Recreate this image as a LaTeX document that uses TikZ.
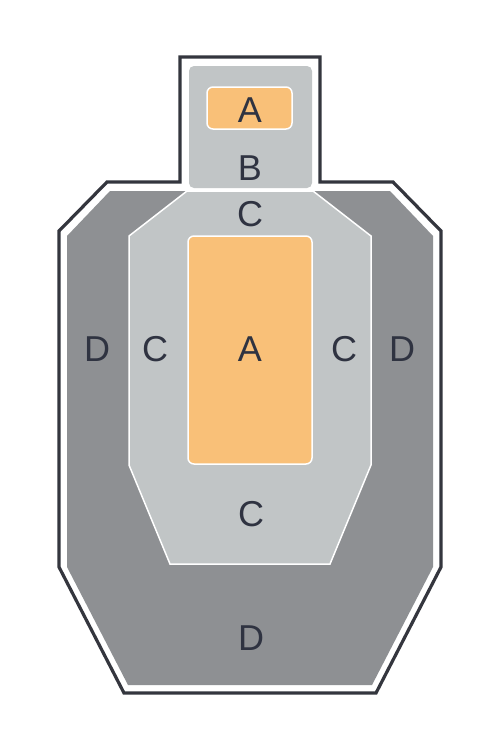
\documentclass[tikz,border=0pt]{standalone}
\usepackage{fontspec}
\setmainfont{Liberation Sans}
\definecolor{outl}{HTML}{34363E}
\definecolor{dgray}{HTML}{8E9093}
\definecolor{lgray}{HTML}{C1C5C6}
\definecolor{orng}{HTML}{F9C078}
\definecolor{txt}{HTML}{2F3341}
\tikzset{
  lbl/.style={text=txt, font=\fontsize{36}{36}\selectfont, inner sep=0pt, anchor=center},
  zoneD/.style={fill=dgray},
  zoneC/.style={fill=lgray, draw=white, line width=1.5pt, line join=miter},
  zoneA/.style={fill=orng, draw=white, line width=1.5pt, rounded corners=6pt},
}
\begin{document}
\begin{tikzpicture}[x=1pt,y=-1pt]
\useasboundingbox (0,0) rectangle (500,750);
\fill[white] (0,0) rectangle (500,750);
% outer outline
\draw[outl, line width=3.2pt, line join=miter]
 (180,57) -- (320,57) -- (320,182) -- (393,182) -- (441,231) -- (441,567)
 -- (376,693) -- (124,693) -- (59,567) -- (59,231) -- (107,182) -- (180,182) -- cycle;
% D region
\fill[zoneD] (110,191) -- (390,191) -- (433,236) -- (433,567) -- (372,685)
 -- (128,685) -- (67,567) -- (67,236) -- cycle;
% head B box
\fill[lgray, rounded corners=5pt] (189,66) rectangle (312,188);
\draw[white, line width=1.5pt] (180,190) -- (320,190);
% C region
\draw[zoneC] (187,191) -- (313,191) -- (371,236) -- (371,465) -- (330,564)
 -- (170,564) -- (129,465) -- (129,236) -- cycle;
% A zones
\draw[zoneA] (207,87) rectangle (292,129);
\draw[zoneA] (188,236) rectangle (312,464);
% labels
\node[lbl] (ah) at (250,110) {A};
\node[lbl] (b) at (250,168) {B};
\node[lbl] (ct) at (250,214) {C};
\node[lbl] (cl) at (155,349) {C};
\node[lbl] (ac) at (250,349) {A};
\node[lbl] (cr) at (344,349) {C};
\node[lbl] (dl) at (97,349) {D};
\node[lbl] (dr) at (402,349) {D};
\node[lbl] (cb) at (251,514) {C};
\node[lbl] (db) at (251,638) {D};
\end{tikzpicture}
\end{document}
